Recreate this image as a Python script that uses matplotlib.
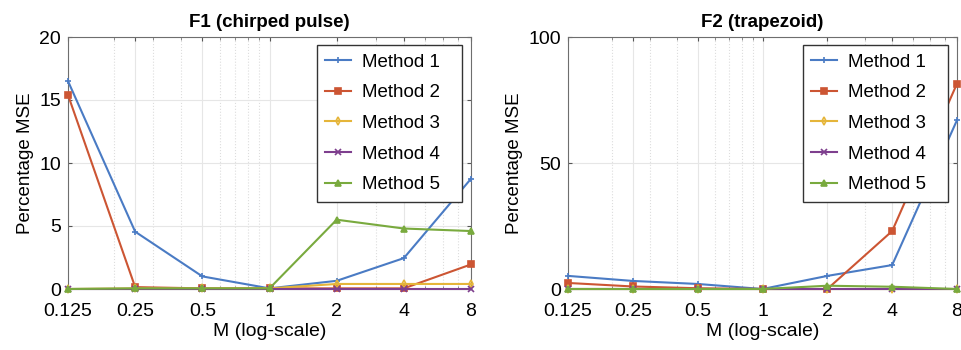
import numpy as np
import matplotlib
matplotlib.use("Agg")
import matplotlib.pyplot as plt
from matplotlib.ticker import FixedLocator, FixedFormatter, LogLocator, NullFormatter

plt.rcParams['font.family'] = ['Liberation Sans', 'DejaVu Sans']

M = [0.125, 0.25, 0.5, 1, 2, 4, 8]
m_labels = ['0.125', '0.25', '0.5', '1', '2', '4', '8']
methods = ['Method 1', 'Method 2', 'Method 3', 'Method 4', 'Method 5']

f1_m1 = [16.5, 4.55, 1.0, 0.05, 0.65, 2.45, 8.75]
f1_m2 = [15.4, 0.15, 0.05, 0.05, 0.05, 0.05, 1.95]
f1_m3 = [0.0, 0.05, 0.05, 0.05, 0.4, 0.4, 0.4]
f1_m4 = [0.0, 0.0, 0.0, 0.0, 0.0, 0.0, 0.0]
f1_m5 = [0.0, 0.05, 0.05, 0.05, 5.5, 4.8, 4.6]

f2_m1 = [5.2, 3.2, 2.0, 0.0, 5.2, 9.5, 67.0]
f2_m2 = [2.4, 1.0, 0.3, 0.0, 0.0, 23.0, 81.5]
f2_m3 = [0.0, 0.0, 0.0, 0.0, 0.0, 0.0, 0.0]
f2_m4 = [0.0, 0.0, 0.0, 0.0, 0.0, 0.0, 0.0]
f2_m5 = [0.0, 0.0, 0.0, 0.0, 1.3, 0.9, 0.0]

colors = ['#4a7bc4', '#cc5533', '#e5b53a', '#7e3f8e', '#79aa3e']
markers = ['+', 's', 'd', 'x', '^']
msizes = [5, 4, 4, 4, 5]


def draw(ax, series, title, ymax, yticks, legbox):
	for s, lab, c, mk, ms in zip(series, methods, colors, markers, msizes):
		ax.plot(M, s, color=c, marker=mk, markersize=ms, linewidth=1.5,
			markerfacecolor='none' if mk == 'd' else c, markeredgewidth=1.2,
			label=lab, clip_on=False, zorder=3)
	ax.set_xscale('log', base=2)
	ax.set_xlim(0.125, 8)
	ax.set_ylim(0, ymax)
	ax.xaxis.set_major_locator(FixedLocator(M))
	ax.xaxis.set_major_formatter(FixedFormatter(m_labels))
	ax.xaxis.set_minor_locator(LogLocator(base=10, subs=np.arange(2, 10)))
	ax.xaxis.set_minor_formatter(NullFormatter())
	ax.set_yticks(yticks)
	ax.grid(True, which='major', color='#e6e6e6', linewidth=0.8)
	ax.grid(True, which='minor', axis='x', color='#dddddd', linestyle=':', linewidth=0.8)
	ax.tick_params(direction='in', top=True, right=True, labelsize=14,
		length=3, color='#555555', pad=5)
	ax.tick_params(axis='x', pad=10)
	ax.tick_params(which='minor', direction='in', top=True, right=True, length=2, color='#777777')
	for sp in ax.spines.values():
		sp.set_color('#6e6e6e')
	ax.set_title(title, fontsize=13.5, fontweight='bold', pad=7)
	ax.set_xlabel('M (log-scale)', fontsize=14, labelpad=2)
	ax.set_ylabel('Percentage MSE', fontsize=13.5, labelpad=4)
	leg = ax.legend(loc='upper left', bbox_to_anchor=legbox, mode='expand',
		borderaxespad=0, fontsize=13.5, fancybox=False, edgecolor='#333333',
		framealpha=1, handlelength=1.35, handletextpad=0.6,
		labelspacing=0.72, borderpad=0.45)
	leg.get_frame().set_linewidth(1.0)


fig, (ax1, ax2) = plt.subplots(1, 2, figsize=(9.62, 3.5), dpi=100)
ax1.set_position([68 / 962, 1 - 289 / 350, (471 - 68) / 962, (289 - 37) / 350])
ax2.set_position([568 / 962, 1 - 289 / 350, (957 - 568) / 962, (289 - 37) / 350])
draw(ax1, [f1_m1, f1_m2, f1_m3, f1_m4, f1_m5], 'F1 (chirped pulse)', 20,
	[0, 5, 10, 15, 20], (0.618, 0.35, 0.36, 0.618))
draw(ax2, [f2_m1, f2_m2, f2_m3, f2_m4, f2_m5], 'F2 (trapezoid)', 100,
	[0, 50, 100], (0.604, 0.35, 0.373, 0.618))
fig.savefig('out.png', dpi=100)
